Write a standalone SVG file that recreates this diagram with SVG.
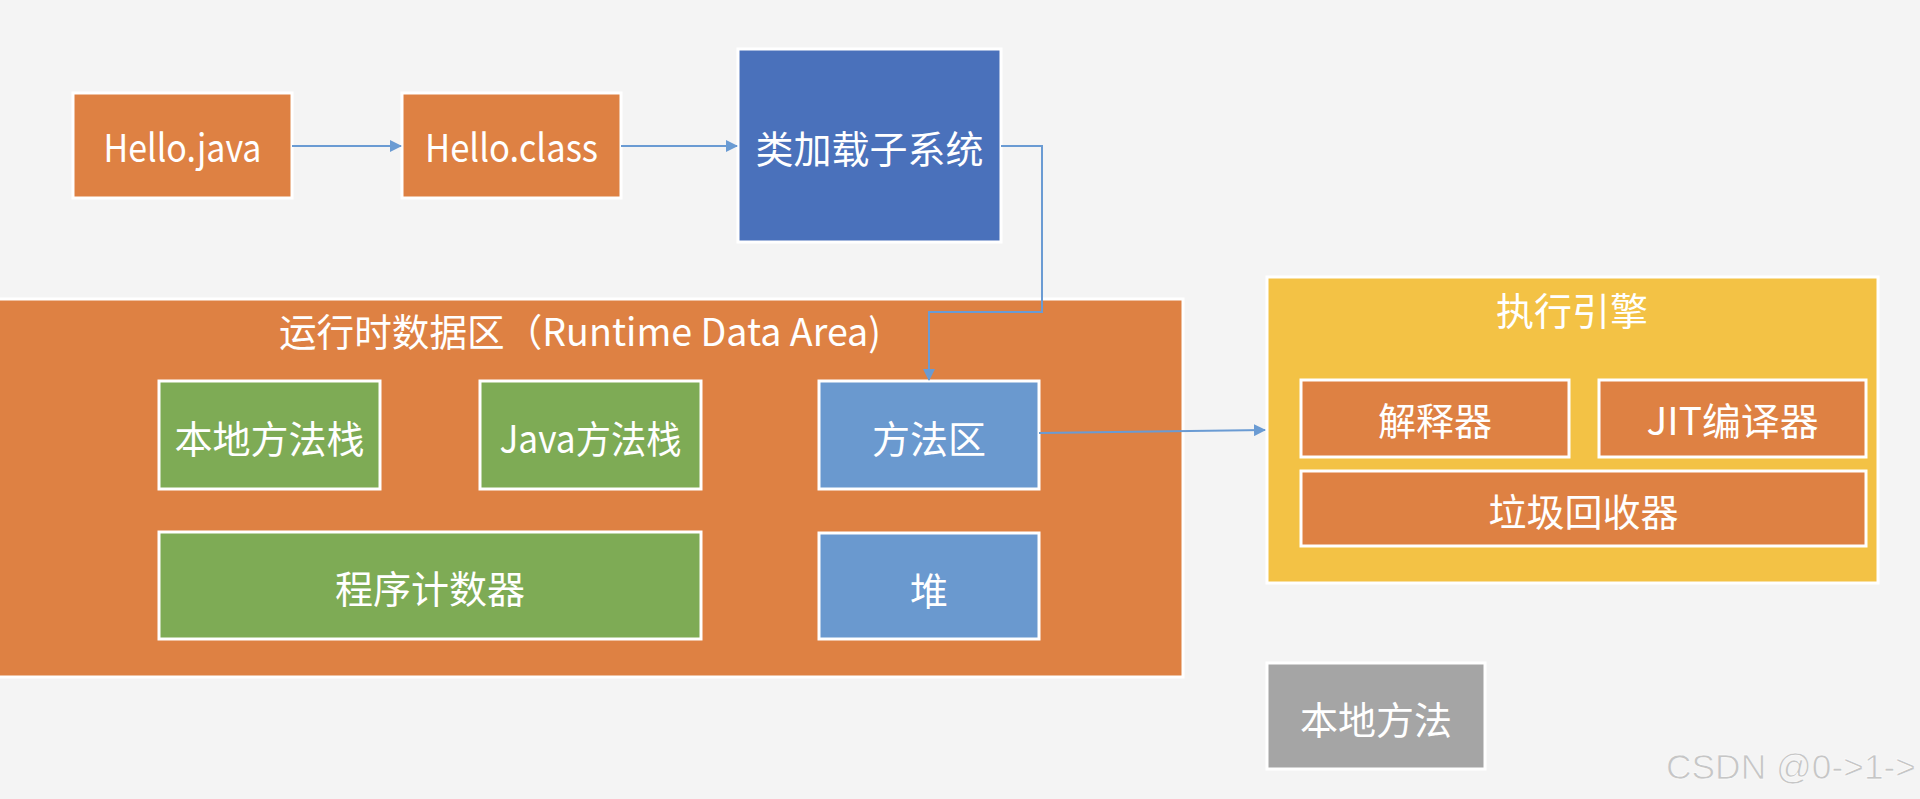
<svg xmlns="http://www.w3.org/2000/svg" width="1920" height="799" viewBox="0 0 1920 799">
<defs>
<style>
.b{stroke:#fff;stroke-width:3}
.or{fill:#de8143}
.bl{fill:#4a71bb}
.lb{fill:#6a99cf}
.gr{fill:#7eab55}
.ye{fill:#f3c245}
.gy{fill:#a5a5a5}
.t{font-family:"Noto Sans CJK SC","Noto Sans",sans-serif;font-size:38px;fill:#fff;text-anchor:middle;dominant-baseline:central}
.c{fill:none;stroke:#6a9bd3;stroke-width:2}
</style>
<marker id="ah" markerWidth="12" markerHeight="12" refX="11" refY="6" orient="auto" markerUnits="userSpaceOnUse">
<path d="M0,0 L12,6 L0,12 Z" fill="#6a9bd3"/>
</marker>
</defs>
<rect width="1920" height="799" fill="#f4f4f4"/>

<g id="hello-java"><rect class="or b" x="73" y="93" width="219" height="105"/><text class="t" x="182.5" y="145" textLength="158" lengthAdjust="spacingAndGlyphs">Hello.java</text></g>
<g id="hello-class"><rect class="or b" x="402" y="93" width="219" height="105"/><text class="t" x="511.5" y="145" textLength="173" lengthAdjust="spacingAndGlyphs">Hello.class</text></g>
<g id="classloader"><rect class="bl b" x="738" y="49" width="263" height="193"/><text class="t" x="869.5" y="146">类加载子系统</text></g>

<g id="runtime-data-area">
<rect class="or b" x="-3" y="299" width="1186" height="378"/>
<text class="t" x="580" y="329" textLength="602" lengthAdjust="spacingAndGlyphs">运行时数据区（Runtime Data Area)</text>
</g>
<g id="native-stack"><rect class="gr b" x="159" y="381" width="221" height="108"/><text class="t" x="269.5" y="436">本地方法栈</text></g>
<g id="java-stack"><rect class="gr b" x="480" y="381" width="221" height="108"/><text class="t" x="590.5" y="436" textLength="182" lengthAdjust="spacingAndGlyphs">Java方法栈</text></g>
<g id="method-area"><rect class="lb b" x="819" y="381" width="220" height="108"/><text class="t" x="929" y="436">方法区</text></g>
<g id="pc"><rect class="gr b" x="159" y="532" width="542" height="107"/><text class="t" x="430" y="586">程序计数器</text></g>
<g id="heap"><rect class="lb b" x="819" y="533" width="220" height="106"/><text class="t" x="929" y="588">堆</text></g>

<g id="exec-engine">
<rect class="ye b" x="1267" y="277" width="611" height="306"/>
<text class="t" x="1572" y="308">执行引擎</text>
</g>
<g id="interpreter"><rect class="or b" x="1301" y="380" width="268" height="77"/><text class="t" x="1435" y="418">解释器</text></g>
<g id="jit"><rect class="or b" x="1599" y="380" width="267" height="77"/><text class="t" x="1732.5" y="418" textLength="172" lengthAdjust="spacingAndGlyphs">JIT编译器</text></g>
<g id="gc"><rect class="or b" x="1301" y="471" width="565" height="75"/><text class="t" x="1583.5" y="509">垃圾回收器</text></g>

<g id="native-method"><rect class="gy b" x="1267" y="663" width="218" height="106"/><text class="t" x="1376" y="717">本地方法</text></g>

<g id="connectors">
<path class="c" d="M292,146 L401,146" marker-end="url(#ah)"/>
<path class="c" d="M621,146 L737,146" marker-end="url(#ah)"/>
<path class="c" d="M1001,146 L1042,146 L1042,312 L929,312 L929,380" marker-end="url(#ah)"/>
<path class="c" d="M1039,433 L1265,430" marker-end="url(#ah)"/>
</g>

<text x="1916" y="779" font-family="Liberation Sans, Arial, sans-serif" font-size="35" fill="#c6c6c6" text-anchor="end" stroke="#fff" stroke-width="0.6" textLength="250" lengthAdjust="spacingAndGlyphs">CSDN @0-&gt;1-&gt;</text>
</svg>
